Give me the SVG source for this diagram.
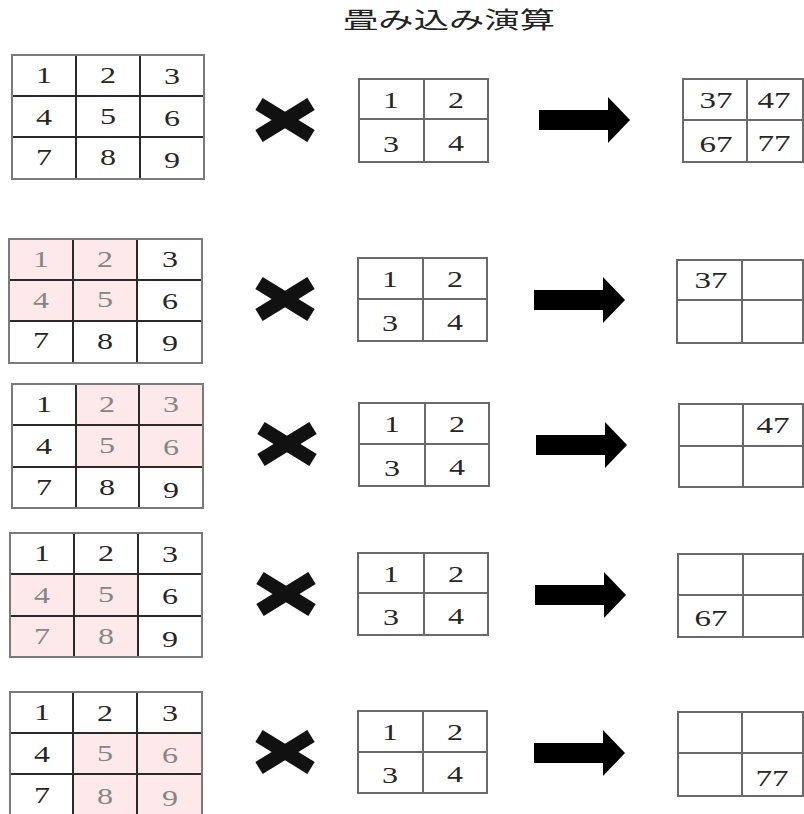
<svg xmlns="http://www.w3.org/2000/svg" xmlns:xlink="http://www.w3.org/1999/xlink" width="804" height="814" viewBox="0 0 804 814">
<style>
.bg{fill:#ffffff}
.hl{fill:#fde9ea}
.outer{fill:none;stroke:#7a7a7a;stroke-width:2}
.inner{stroke:#2a2a2a;stroke-width:2}
.kline{stroke:#6a6a6a;stroke-width:2}
.kout{fill:none;stroke:#6a6a6a;stroke-width:2}
.d{font-family:"Liberation Serif","Times New Roman",serif;font-size:23px;fill:#262626;text-anchor:middle}
.g{fill:#858585}
.title{font-family:"Noto Sans CJK JP","Noto Sans",sans-serif;font-size:23px;fill:#222}
</style>
<defs>
<g id="cross">
<line x1="-26" y1="-16" x2="26" y2="16" stroke="#111" stroke-width="14"/>
<line x1="26" y1="-16" x2="-26" y2="16" stroke="#111" stroke-width="14"/>
</g>
<path id="arrow" d="M0,-10 H69 V-23 L91,0 L69,23 V10 H0 Z" fill="#000"/>
</defs>
<rect width="804" height="814" fill="#fff"/>
<text class="title" x="343" y="28" textLength="212" lengthAdjust="spacingAndGlyphs">畳み込み演算</text>

<!-- Row 1 -->
<g id="input1">
<rect class="bg" x="12" y="55" width="192" height="124"/>
<line class="inner" x1="76" y1="55" x2="76" y2="179"/><line class="inner" x1="140" y1="55" x2="140" y2="179"/>
<line class="inner" x1="12" y1="96" x2="204" y2="96"/><line class="inner" x1="12" y1="137" x2="204" y2="137"/>
<rect class="outer" x="12" y="55" width="192" height="124"/>
<text class="d" x="44" y="83" textLength="16" lengthAdjust="spacingAndGlyphs">1</text>
<text class="d" x="108" y="83" textLength="16" lengthAdjust="spacingAndGlyphs">2</text>
<text class="d" x="172" y="84" textLength="16" lengthAdjust="spacingAndGlyphs">3</text>
<text class="d" x="44" y="125" textLength="16" lengthAdjust="spacingAndGlyphs">4</text>
<text class="d" x="108" y="124" textLength="16" lengthAdjust="spacingAndGlyphs">5</text>
<text class="d" x="172" y="126" textLength="16" lengthAdjust="spacingAndGlyphs">6</text>
<text class="d" x="44" y="165" textLength="16" lengthAdjust="spacingAndGlyphs">7</text>
<text class="d" x="108" y="165" textLength="16" lengthAdjust="spacingAndGlyphs">8</text>
<text class="d" x="172" y="168" textLength="16" lengthAdjust="spacingAndGlyphs">9</text>
</g>
<g id="op1"><use xlink:href="#cross" x="285" y="120"/></g>
<g id="kernel1">
<rect class="bg" x="359" y="79" width="129" height="83"/>
<line class="kline" x1="424" y1="79" x2="424" y2="162"/><line class="kline" x1="359" y1="119" x2="488" y2="119"/>
<rect class="kout" x="359" y="79" width="129" height="83"/>
<text class="d" x="391" y="108" textLength="16" lengthAdjust="spacingAndGlyphs">1</text>
<text class="d" x="456" y="108" textLength="16" lengthAdjust="spacingAndGlyphs">2</text>
<text class="d" x="391" y="152" textLength="16" lengthAdjust="spacingAndGlyphs">3</text>
<text class="d" x="456" y="151" textLength="16" lengthAdjust="spacingAndGlyphs">4</text>
</g>
<g id="arrow1"><use xlink:href="#arrow" x="539" y="120"/></g>
<g id="output1">
<rect class="bg" x="683" y="79" width="120" height="83"/>
<line class="kline" x1="747" y1="79" x2="747" y2="162"/><line class="kline" x1="683" y1="120" x2="803" y2="120"/>
<rect class="kout" x="683" y="79" width="120" height="83"/>
<text class="d" x="716" y="108" textLength="33" lengthAdjust="spacingAndGlyphs">37</text>
<text class="d" x="774" y="108" textLength="33" lengthAdjust="spacingAndGlyphs">47</text>
<text class="d" x="716" y="152" textLength="33" lengthAdjust="spacingAndGlyphs">67</text>
<text class="d" x="774" y="151" textLength="33" lengthAdjust="spacingAndGlyphs">77</text>
</g>

<!-- Row 2 -->
<g id="input2">
<rect class="bg" x="9" y="239" width="193" height="124"/>
<rect class="hl" x="9" y="239" width="128" height="82"/>
<line class="inner" x1="73" y1="239" x2="73" y2="363"/><line class="inner" x1="137" y1="239" x2="137" y2="363"/>
<line class="inner" x1="9" y1="280" x2="202" y2="280"/><line class="inner" x1="9" y1="321" x2="202" y2="321"/>
<rect class="outer" x="9" y="239" width="193" height="124"/>
<text class="d g" x="41" y="267" textLength="16" lengthAdjust="spacingAndGlyphs">1</text>
<text class="d g" x="105" y="267" textLength="16" lengthAdjust="spacingAndGlyphs">2</text>
<text class="d" x="170" y="267" textLength="16" lengthAdjust="spacingAndGlyphs">3</text>
<text class="d g" x="41" y="308" textLength="16" lengthAdjust="spacingAndGlyphs">4</text>
<text class="d g" x="105" y="307" textLength="16" lengthAdjust="spacingAndGlyphs">5</text>
<text class="d" x="170" y="309" textLength="16" lengthAdjust="spacingAndGlyphs">6</text>
<text class="d" x="41" y="348" textLength="16" lengthAdjust="spacingAndGlyphs">7</text>
<text class="d" x="105" y="349" textLength="16" lengthAdjust="spacingAndGlyphs">8</text>
<text class="d" x="170" y="351" textLength="16" lengthAdjust="spacingAndGlyphs">9</text>
</g>
<g id="op2"><use xlink:href="#cross" x="285" y="299"/></g>
<g id="kernel2">
<rect class="bg" x="358" y="258" width="129" height="83"/>
<line class="kline" x1="423" y1="258" x2="423" y2="341"/><line class="kline" x1="358" y1="299" x2="487" y2="299"/>
<rect class="kout" x="358" y="258" width="129" height="83"/>
<text class="d" x="390" y="287" textLength="16" lengthAdjust="spacingAndGlyphs">1</text>
<text class="d" x="455" y="287" textLength="16" lengthAdjust="spacingAndGlyphs">2</text>
<text class="d" x="390" y="331" textLength="16" lengthAdjust="spacingAndGlyphs">3</text>
<text class="d" x="455" y="330" textLength="16" lengthAdjust="spacingAndGlyphs">4</text>
</g>
<g id="arrow2"><use xlink:href="#arrow" x="534" y="300"/></g>
<g id="output2">
<rect class="bg" x="677" y="260" width="126" height="83"/>
<line class="kline" x1="742" y1="260" x2="742" y2="343"/><line class="kline" x1="677" y1="300" x2="803" y2="300"/>
<rect class="kout" x="677" y="260" width="126" height="83"/>
<text class="d" x="711" y="288" textLength="33" lengthAdjust="spacingAndGlyphs">37</text>
</g>

<!-- Row 3 -->
<g id="input3">
<rect class="bg" x="12" y="384" width="191" height="124"/>
<rect class="hl" x="76" y="384" width="127" height="83"/>
<line class="inner" x1="76" y1="384" x2="76" y2="508"/><line class="inner" x1="139" y1="384" x2="139" y2="508"/>
<line class="inner" x1="12" y1="425" x2="203" y2="425"/><line class="inner" x1="12" y1="467" x2="203" y2="467"/>
<rect class="outer" x="12" y="384" width="191" height="124"/>
<text class="d" x="44" y="412" textLength="16" lengthAdjust="spacingAndGlyphs">1</text>
<text class="d g" x="107" y="412" textLength="16" lengthAdjust="spacingAndGlyphs">2</text>
<text class="d g" x="171" y="412" textLength="16" lengthAdjust="spacingAndGlyphs">3</text>
<text class="d" x="44" y="454" textLength="16" lengthAdjust="spacingAndGlyphs">4</text>
<text class="d g" x="107" y="453" textLength="16" lengthAdjust="spacingAndGlyphs">5</text>
<text class="d g" x="171" y="455" textLength="16" lengthAdjust="spacingAndGlyphs">6</text>
<text class="d" x="44" y="495" textLength="16" lengthAdjust="spacingAndGlyphs">7</text>
<text class="d" x="107" y="495" textLength="16" lengthAdjust="spacingAndGlyphs">8</text>
<text class="d" x="171" y="498" textLength="16" lengthAdjust="spacingAndGlyphs">9</text>
</g>
<g id="op3"><use xlink:href="#cross" x="287" y="444"/></g>
<g id="kernel3">
<rect class="bg" x="359" y="403" width="130" height="83"/>
<line class="kline" x1="425" y1="403" x2="425" y2="486"/><line class="kline" x1="359" y1="444" x2="489" y2="444"/>
<rect class="kout" x="359" y="403" width="130" height="83"/>
<text class="d" x="392" y="432" textLength="16" lengthAdjust="spacingAndGlyphs">1</text>
<text class="d" x="457" y="432" textLength="16" lengthAdjust="spacingAndGlyphs">2</text>
<text class="d" x="392" y="476" textLength="16" lengthAdjust="spacingAndGlyphs">3</text>
<text class="d" x="457" y="475" textLength="16" lengthAdjust="spacingAndGlyphs">4</text>
</g>
<g id="arrow3"><use xlink:href="#arrow" x="536" y="445"/></g>
<g id="output3">
<rect class="bg" x="679" y="404" width="124" height="83"/>
<line class="kline" x1="743" y1="404" x2="743" y2="487"/><line class="kline" x1="679" y1="446" x2="803" y2="446"/>
<rect class="kout" x="679" y="404" width="124" height="83"/>
<text class="d" x="773" y="433" textLength="33" lengthAdjust="spacingAndGlyphs">47</text>
</g>

<!-- Row 4 -->
<g id="input4">
<rect class="bg" x="10" y="533" width="192" height="124"/>
<rect class="hl" x="10" y="574" width="128" height="83"/>
<line class="inner" x1="74" y1="533" x2="74" y2="657"/><line class="inner" x1="138" y1="533" x2="138" y2="657"/>
<line class="inner" x1="10" y1="574" x2="202" y2="574"/><line class="inner" x1="10" y1="616" x2="202" y2="616"/>
<rect class="outer" x="10" y="533" width="192" height="124"/>
<text class="d" x="42" y="561" textLength="16" lengthAdjust="spacingAndGlyphs">1</text>
<text class="d" x="106" y="561" textLength="16" lengthAdjust="spacingAndGlyphs">2</text>
<text class="d" x="170" y="562" textLength="16" lengthAdjust="spacingAndGlyphs">3</text>
<text class="d g" x="42" y="603" textLength="16" lengthAdjust="spacingAndGlyphs">4</text>
<text class="d g" x="106" y="602" textLength="16" lengthAdjust="spacingAndGlyphs">5</text>
<text class="d" x="170" y="604" textLength="16" lengthAdjust="spacingAndGlyphs">6</text>
<text class="d g" x="42" y="644" textLength="16" lengthAdjust="spacingAndGlyphs">7</text>
<text class="d g" x="106" y="644" textLength="16" lengthAdjust="spacingAndGlyphs">8</text>
<text class="d" x="170" y="647" textLength="16" lengthAdjust="spacingAndGlyphs">9</text>
</g>
<g id="op4"><use xlink:href="#cross" x="286" y="594"/></g>
<g id="kernel4">
<rect class="bg" x="358" y="553" width="130" height="82"/>
<line class="kline" x1="424" y1="553" x2="424" y2="635"/><line class="kline" x1="358" y1="593" x2="488" y2="593"/>
<rect class="kout" x="358" y="553" width="130" height="82"/>
<text class="d" x="391" y="582" textLength="16" lengthAdjust="spacingAndGlyphs">1</text>
<text class="d" x="456" y="582" textLength="16" lengthAdjust="spacingAndGlyphs">2</text>
<text class="d" x="391" y="625" textLength="16" lengthAdjust="spacingAndGlyphs">3</text>
<text class="d" x="456" y="624" textLength="16" lengthAdjust="spacingAndGlyphs">4</text>
</g>
<g id="arrow4"><use xlink:href="#arrow" x="535" y="595"/></g>
<g id="output4">
<rect class="bg" x="678" y="554" width="125" height="83"/>
<line class="kline" x1="743" y1="554" x2="743" y2="637"/><line class="kline" x1="678" y1="595" x2="803" y2="595"/>
<rect class="kout" x="678" y="554" width="125" height="83"/>
<text class="d" x="711" y="626" textLength="33" lengthAdjust="spacingAndGlyphs">67</text>
</g>

<!-- Row 5 -->
<g id="input5">
<rect class="bg" x="10" y="692" width="192" height="124"/>
<rect class="hl" x="73" y="733" width="129" height="83"/>
<line class="inner" x1="73" y1="692" x2="73" y2="816"/><line class="inner" x1="137" y1="692" x2="137" y2="816"/>
<line class="inner" x1="10" y1="733" x2="202" y2="733"/><line class="inner" x1="10" y1="774" x2="202" y2="774"/>
<rect class="outer" x="10" y="692" width="192" height="124"/>
<text class="d" x="42" y="720" textLength="16" lengthAdjust="spacingAndGlyphs">1</text>
<text class="d" x="105" y="721" textLength="16" lengthAdjust="spacingAndGlyphs">2</text>
<text class="d" x="170" y="721" textLength="16" lengthAdjust="spacingAndGlyphs">3</text>
<text class="d" x="42" y="762" textLength="16" lengthAdjust="spacingAndGlyphs">4</text>
<text class="d g" x="105" y="761" textLength="16" lengthAdjust="spacingAndGlyphs">5</text>
<text class="d g" x="170" y="763" textLength="16" lengthAdjust="spacingAndGlyphs">6</text>
<text class="d" x="42" y="803" textLength="16" lengthAdjust="spacingAndGlyphs">7</text>
<text class="d g" x="105" y="804" textLength="16" lengthAdjust="spacingAndGlyphs">8</text>
<text class="d g" x="170" y="806" textLength="16" lengthAdjust="spacingAndGlyphs">9</text>
</g>
<g id="op5"><use xlink:href="#cross" x="285" y="752"/></g>
<g id="kernel5">
<rect class="bg" x="358" y="711" width="129" height="82"/>
<line class="kline" x1="423" y1="711" x2="423" y2="793"/><line class="kline" x1="358" y1="752" x2="487" y2="752"/>
<rect class="kout" x="358" y="711" width="129" height="82"/>
<text class="d" x="390" y="740" textLength="16" lengthAdjust="spacingAndGlyphs">1</text>
<text class="d" x="455" y="740" textLength="16" lengthAdjust="spacingAndGlyphs">2</text>
<text class="d" x="390" y="783" textLength="16" lengthAdjust="spacingAndGlyphs">3</text>
<text class="d" x="455" y="782" textLength="16" lengthAdjust="spacingAndGlyphs">4</text>
</g>
<g id="arrow5"><use xlink:href="#arrow" x="534" y="753"/></g>
<g id="output5">
<rect class="bg" x="678" y="712" width="125" height="84"/>
<line class="kline" x1="742" y1="712" x2="742" y2="796"/><line class="kline" x1="678" y1="753" x2="803" y2="753"/>
<rect class="kout" x="678" y="712" width="125" height="84"/>
<text class="d" x="772" y="786" textLength="33" lengthAdjust="spacingAndGlyphs">77</text>
</g>
</svg>
